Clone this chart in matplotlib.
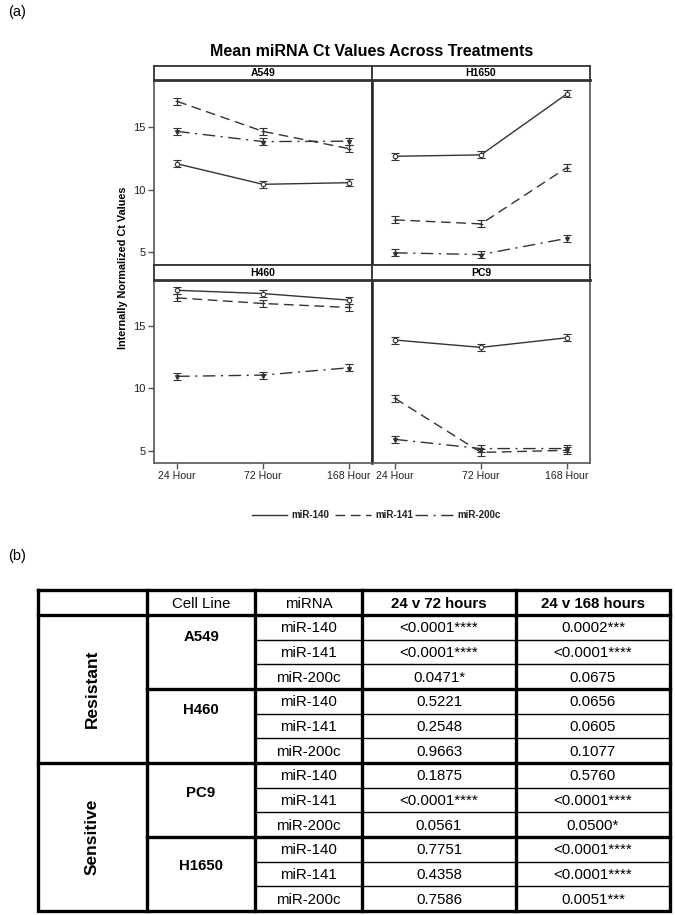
import matplotlib
matplotlib.use("Agg")
import matplotlib.pyplot as plt
from matplotlib import font_manager as fm

# ---------------- data ----------------
timepoints = ["24 Hour", "72 Hour", "168 Hour"]
mirnas = ["miR-140", "miR-141", "miR-200c"]
cell_lines = ["A549", "H1650", "H460", "PC9"]

a549_mir140 = [12.05, 10.42, 10.55]
a549_mir141 = [17.02, 14.63, 13.26]
a549_mir200c = [14.63, 13.82, 13.85]

h1650_mir140 = [12.65, 12.76, 17.61]
h1650_mir141 = [7.59, 7.27, 11.75]
h1650_mir200c = [4.97, 4.83, 6.12]

h460_mir140 = [17.89, 17.63, 17.10]
h460_mir141 = [17.28, 16.83, 16.51]
h460_mir200c = [10.97, 11.07, 11.66]

pc9_mir140 = [13.89, 13.30, 14.07]
pc9_mir141 = [9.19, 4.85, 5.02]
pc9_mir200c = [5.90, 5.16, 5.16]

err_half = 0.28

series = {
    "A549": [a549_mir140, a549_mir141, a549_mir200c],
    "H1650": [h1650_mir140, h1650_mir141, h1650_mir200c],
    "H460": [h460_mir140, h460_mir141, h460_mir200c],
    "PC9": [pc9_mir140, pc9_mir141, pc9_mir200c],
}

# table data
tbl_header = ["", "Cell Line", "miRNA", "24 v 72 hours", "24 v 168 hours"]
tbl_groups = ["Resistant", "Sensitive"]
tbl_cells = ["A549", "H460", "PC9", "H1650"]
tbl_mirna = ["miR-140", "miR-141", "miR-200c"] * 4
p_24v72 = ["<0.0001****", "<0.0001****", "0.0471*",
           "0.5221", "0.2548", "0.9663",
           "0.1875", "<0.0001****", "0.0561",
           "0.7751", "0.4358", "0.7586"]
p_24v168 = ["0.0002***", "<0.0001****", "0.0675",
            "0.0656", "0.0605", "0.1077",
            "0.5760", "<0.0001****", "0.0500*",
            "<0.0001****", "<0.0001****", "0.0051***"]

# ---------------- fonts ----------------
avail = {f.name for f in fm.fontManager.ttflist}
narrow = "Liberation Sans Narrow" if "Liberation Sans Narrow" in avail else "Liberation Sans"
plt.rcParams["font.family"] = ["Liberation Sans", "DejaVu Sans"]

W, H = 675, 915
fig = plt.figure(figsize=(W / 100, H / 100), dpi=100)


def fx(px):
    return px / W


def fy(py):
    return 1 - py / H


def add_ax(x0, y0, x1, y1, **kw):
    return fig.add_axes([fx(x0), fy(y1), fx(x1) - fx(x0), (y1 - y0) / H], **kw)


line_col = "#333333"
spine_col = "#555555"
styles = [
    dict(ls="-", marker="o", mfc="white"),
    dict(ls=(0, (7, 4)), marker="+"),
    dict(ls=(0, (9, 4, 1.5, 4)), marker="*"),
]

L, M, R = 154, 372, 590
rows = [(66, 80, 265), (265, 280, 463)]
layout = [["A549", "H1650"], ["H460", "PC9"]]
xs = list(range(len(timepoints)))

for ri, (st, top, bot) in enumerate(rows):
    for ci, (x0, x1) in enumerate([(L, M), (M, R)]):
        name = layout[ri][ci]
        ax = add_ax(x0, top, x1, bot)
        for k, vals in enumerate(series[name]):
            st_ = styles[k]
            ax.errorbar(xs, vals, yerr=err_half, color=line_col, lw=1.0,
                        ls=st_["ls"], marker=st_["marker"], ms=3.2,
                        mfc=st_.get("mfc", line_col), mec=line_col, mew=0.8,
                        ecolor=line_col, elinewidth=0.9, capsize=2.6, capthick=0.9)
        ax.set_xlim(-0.27, 2.27)
        ax.set_ylim(4.0, 18.72)
        ax.set_yticks([5, 10, 15])
        ax.set_xticks(xs)
        for s in ax.spines.values():
            s.set_color(spine_col)
            s.set_linewidth(1.2)
        ax.tick_params(length=4, width=1, color=spine_col, labelsize=8,
                       labelcolor="#222222", pad=2)
        if ci == 0:
            ax.set_yticklabels(["5", "10", "15"], fontfamily=narrow)
        else:
            ax.tick_params(axis="y", left=False, labelleft=False)
            ax.spines["left"].set_color("#222222")
            ax.spines["left"].set_linewidth(1.8)
        if ri == 1:
            ax.set_xticklabels(timepoints, fontfamily=narrow, fontsize=7.6)
        else:
            ax.tick_params(axis="x", bottom=False, labelbottom=False)
        # strip
        sx = add_ax(x0, st, x1, top)
        sx.set_xticks([])
        sx.set_yticks([])
        for s in sx.spines.values():
            s.set_color("#333333")
            s.set_linewidth(1.3)
        sx.spines["bottom"].set_linewidth(2.0)
        sx.text(0.5, 0.5, name, ha="center", va="center", fontsize=7.5,
                fontweight="bold", transform=sx.transAxes)

# full-figure overlay for texts and table
ov = fig.add_axes([0, 0, 1, 1], zorder=-1)
ov.set_xlim(0, W)
ov.set_ylim(H, 0)
ov.axis("off")

ov.text(8, 12, "(a)", fontsize=10.5, ha="left", va="center", fontfamily=narrow)
ov.text(372, 52, "Mean miRNA Ct Values Across Treatments", fontsize=11.5,
        fontweight="bold", ha="center", va="center", fontfamily=narrow)
ov.text(123, 268, "Internally Normalized Ct Values", fontsize=7.8, fontweight="bold",
        rotation=90, ha="center", va="center")

# legend
leg_y = 515
legend_items = [(252, 287, 291), (335, 371, 375), (415, 453, 457)]
for k, (a, b, tx) in enumerate(legend_items):
    ov.plot([a, b], [leg_y, leg_y], color=line_col, lw=1.0, ls=styles[k]["ls"])
    ov.text(tx, leg_y, mirnas[k], fontsize=7, fontweight="bold", ha="left",
            va="center", color="#222222")

# ---------------- table (b) ----------------
ov.text(8, 556, "(b)", fontsize=10.5, ha="left", va="center", fontfamily=narrow)

cols = [38, 147, 255, 362, 516, 670]
t_top, h_bot, t_bot = 590, 615, 911
n = len(tbl_mirna)
rh = (t_bot - h_bot) / n
row_edges = [h_bot + i * rh for i in range(n + 1)]

thick, thin = 2.4, 1.0
tc = "black"
ov.plot([cols[0], cols[-1], cols[-1], cols[0], cols[0]],
        [t_top, t_top, t_bot, t_bot, t_top], color=tc, lw=thick, solid_joinstyle="miter")
for c in cols[1:-1]:
    ov.plot([c, c], [t_top, t_bot], color=tc, lw=thick)
ov.plot([cols[0], cols[-1]], [h_bot, h_bot], color=tc, lw=thick)
for i in range(1, n):
    y = row_edges[i]
    if i == 6:
        ov.plot([cols[0], cols[-1]], [y, y], color=tc, lw=thick)
    elif i % 3 == 0:
        ov.plot([cols[1], cols[-1]], [y, y], color=tc, lw=thick)
    else:
        ov.plot([cols[2], cols[-1]], [y, y], color=tc, lw=thin)

centers = [(cols[i] + cols[i + 1]) / 2 for i in range(len(cols) - 1)]
hy = (t_top + h_bot) / 2
for i, h in enumerate(tbl_header):
    if h:
        ov.text(centers[i], hy + 1, h, fontsize=10.8, ha="center", va="center",
                fontweight="bold" if i >= 3 else "normal")

for g, name in enumerate(tbl_groups):
    yc = (row_edges[g * 6] + row_edges[g * 6 + 6]) / 2
    ov.text(centers[0], yc, name, fontsize=12.5, fontweight="bold", rotation=90,
            ha="center", va="center")

cell_frac = [0.30, 0.28, 0.40, 0.39]
for c, name in enumerate(tbl_cells):
    y0 = row_edges[c * 3]
    y1 = row_edges[c * 3 + 3]
    ov.text(centers[1], y0 + cell_frac[c] * (y1 - y0), name, fontsize=10.8,
            fontweight="bold", ha="center", va="center")

for i in range(n):
    yc = (row_edges[i] + row_edges[i + 1]) / 2 + 1
    ov.text(centers[2], yc, tbl_mirna[i], fontsize=10.8, ha="center", va="center")
    ov.text(centers[3], yc, p_24v72[i], fontsize=10.8, ha="center", va="center")
    ov.text(centers[4], yc, p_24v168[i], fontsize=10.8, ha="center", va="center")

fig.savefig("out.png", dpi=100)
